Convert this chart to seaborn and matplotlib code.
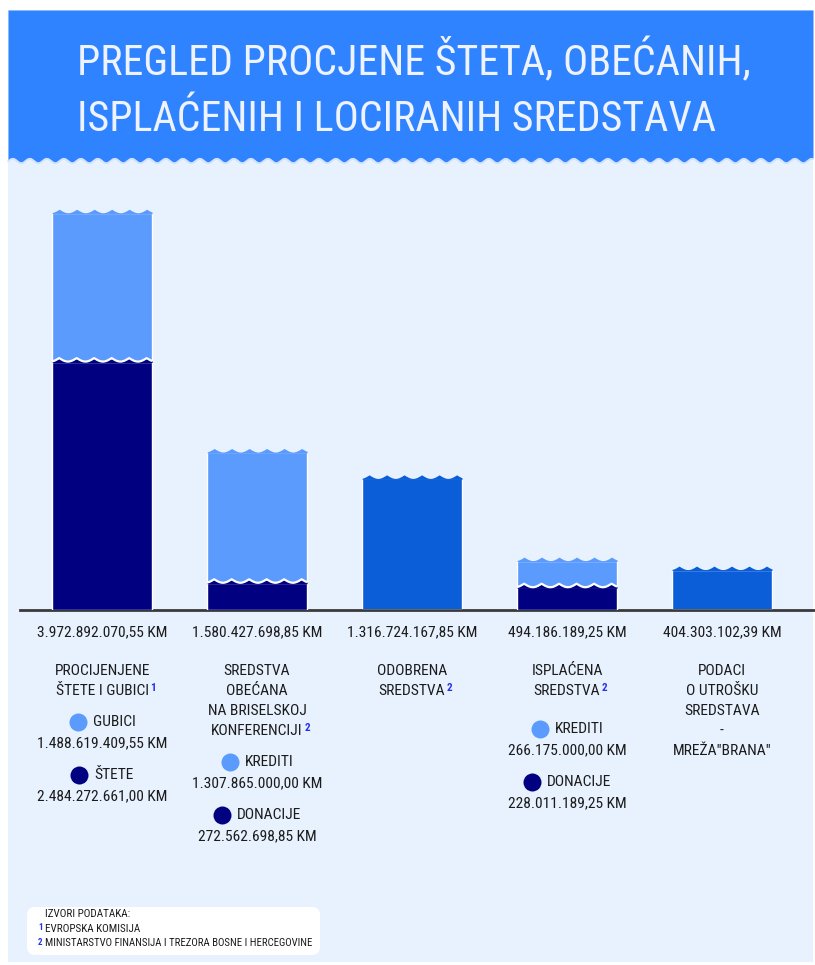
import numpy as np
import seaborn as sns
import matplotlib.pyplot as plt
from matplotlib.patches import Rectangle, FancyBboxPatch

sns.set_theme(style='white')
plt.rcParams['font.family'] = ['Ubuntu Condensed', 'Roboto Condensed', 'Open Sans Condensed',
                               'Liberation Sans Narrow', 'DejaVu Sans']

W, H = 815, 965

# data
categories = ['Procijenjene štete i gubici', 'Sredstva obećana', 'Odobrena sredstva',
              'Isplaćena sredstva', 'Podaci o utrošku']
totals = [3972892070.55, 1580427698.85, 1316724167.85, 494186189.25, 404303102.39]
light_part = [1488619409.55, 1307865000.00, 0, 266175000.00, 0]
dark_part = [2484272661.00, 272562698.85, 0, 228011189.25, 0]
title_lines = [['PROCIJENJENE', 'ŠTETE I GUBICI'],
               ['SREDSTVA', 'OBEĆANA', 'NA BRISELSKOJ', 'KONFERENCIJI'],
               ['ODOBRENA', 'SREDSTVA'],
               ['ISPLAĆENA', 'SREDSTVA'],
               ['PODACI', 'O UTROŠKU', 'SREDSTAVA', '-', 'MREŽA"BRANA"']]
source_refs = ['1', '2', '2', '2', None]
light_names = ['GUBICI', 'KREDITI', None, 'KREDITI', None]
dark_names = ['ŠTETE', 'DONACIJE', None, 'DONACIJE', None]
sources = ['EVROPSKA KOMISIJA', 'MINISTARSTVO FINANSIJA I TREZORA BOSNE I HERCEGOVINE']

LIGHT, DARK, MID = '#5A9BFD', '#000080', '#0B5ED8'
HEADER, PANEL, TEXT, REF = '#2F83FF', '#E8F1FE', '#1C1C1C', '#2530E8'
top_colors = [LIGHT, LIGHT, MID, LIGHT, MID]
legend_top = [722, 762, None, 729, None]


def km(v):
    s = f'{v:,.2f}'.replace(',', 'X').replace('.', ',').replace('X', '.')
    return s + ' KM'


def wave(xs, x0, base, amp, period, phase=0.4):
    return base + amp * (1 - np.abs(np.sin(np.pi * ((xs - x0) / period - phase))))


def fit(t, target, renderer):
    # shrink/grow a text so that its width matches the reference
    w = t.get_window_extent(renderer).width
    t.set_fontsize(t.get_fontsize() * target / w)


fig = plt.figure(figsize=(W / 100, H / 100), dpi=100)
fig.patch.set_facecolor('white')
renderer = fig.canvas.get_renderer()

# background axes in pixel coordinates
bg = fig.add_axes([0, 0, 1, 1])
bg.set_xlim(0, W)
bg.set_ylim(H, 0)
bg.axis('off')
bg.add_patch(Rectangle((8, 10), 805, 952, color=PANEL, lw=0))
hx = np.linspace(8, 813, 800)
hy = 160 + 2.2 * np.sin(2 * np.pi * hx / 17)
bg.fill_between(hx, 10, hy, color=HEADER, lw=0)
bg.plot(hx, hy + 1, color='#CFE1FF', lw=1.3)

title = bg.text(77, 75, 'PREGLED PROCJENE ŠTETA, OBEĆANIH,', color='#EEF3FF',
                fontsize=40, va='baseline', ha='left')
title2 = bg.text(77, 131, 'ISPLAĆENIH I LOCIRANIH SREDSTAVA', color='#EEF3FF',
                 fontsize=40, va='baseline', ha='left')
fit(title, 671, renderer)
title2.set_fontsize(title.get_fontsize())

# chart axes: baseline at y=610 px, 100 px per 1e9
x0px, x1px, ytop, ybot = 20, 815, 190, 610
ax = fig.add_axes([x0px / W, 1 - ybot / H, (x1px - x0px) / W, (ybot - ytop) / H])
ax.patch.set_alpha(0)

n0 = len(ax.patches)
sns.barplot(x=categories, y=totals, hue=categories, palette=top_colors, legend=False,
            width=0.645, saturation=1, ax=ax, zorder=2)
top_bars = ax.patches[n0:]
n1 = len(ax.patches)
sns.barplot(x=categories, y=dark_part, color=DARK, width=0.645, saturation=1, ax=ax, zorder=3)
dark_bars = ax.patches[n1:]

ax.set_xlim(-0.53, 4.6)
ax.set_ylim(0, 4.2e9)
ax.set_xticks([])
ax.set_yticks([])
ax.set_xlabel('')
ax.set_ylabel('')
sns.despine(ax=ax, left=True)
ax.spines['bottom'].set_color('#3A3A3A')
ax.spines['bottom'].set_linewidth(2)

ypp = 4.2e9 / (ybot - ytop)
xpp = 5.13 / (x1px - x0px)
for p in top_bars:
    xs = np.linspace(p.get_x(), p.get_x() + p.get_width(), 300)
    ys = wave(xs, p.get_x(), p.get_height(), 3.5 * ypp, 17.5 * xpp)
    ax.fill_between(xs, p.get_height() - ypp, ys, color=p.get_facecolor(), lw=0, zorder=2)
for p, v in zip(dark_bars, dark_part):
    if v <= 0:
        continue
    xs = np.linspace(p.get_x(), p.get_x() + p.get_width(), 300)
    ys = wave(xs, p.get_x(), p.get_height(), 3.5 * ypp, 17.5 * xpp)
    ax.fill_between(xs, p.get_height() - ypp, ys, color=DARK, lw=0, zorder=3)
    ax.plot(xs, ys, color='white', lw=1.6, zorder=4, solid_capstyle='butt')

# texts below bars, positioned from bar centres
fs = 11
probe = bg.text(0, 0, km(totals[0]), fontsize=fs)
fit(probe, 131, renderer)
fs = probe.get_fontsize()
probe.remove()
for i, p in enumerate(top_bars):
    cx = bg.transData.inverted().transform(
        ax.transData.transform((p.get_x() + p.get_width() / 2, 0)))[0]
    bg.text(cx, 632, km(totals[i]), ha='center', va='center', fontsize=fs, color=TEXT)
    y = 671
    t = None
    for line in title_lines[i]:
        t = bg.text(cx, y, line, ha='center', va='center', fontsize=fs, color=TEXT)
        y += 20
    if source_refs[i]:
        bg.annotate(source_refs[i], xy=(1, 1), xycoords=t, xytext=(1, 0.5),
                    textcoords='offset points', ha='left', va='top', fontsize=fs * 0.72,
                    color=REF, fontweight='bold')
    if legend_top[i] is None:
        continue
    ly = legend_top[i]
    for name, val, col in [(light_names[i], light_part[i], LIGHT),
                           (dark_names[i], dark_part[i], DARK)]:
        lt = bg.text(cx + 12, ly, name, ha='center', va='center', fontsize=fs, color=TEXT)
        ext = lt.get_window_extent(renderer)
        left = bg.transData.inverted().transform((ext.x0, ext.y0))[0]
        bg.scatter([left - 15], [ly], s=(18 * 0.72) ** 2, color=col, lw=0)
        bg.text(cx, ly + 21, km(val), ha='center', va='center', fontsize=fs, color=TEXT)
        ly += 53

# sources box
bg.add_patch(FancyBboxPatch((27, 907), 293, 48, boxstyle='round,pad=0,rounding_size=8',
                            color='white', lw=0))
bg.text(45, 914, 'IZVORI PODATAKA:', fontsize=8, color=TEXT, va='center')
for k, src in enumerate(sources):
    yy = 929 + k * 14.5
    st = bg.text(45, yy, src, fontsize=8, color=TEXT, va='center')
    if k == 1:
        fit(st, 268, renderer)
    bg.text(38, yy - 1, str(k + 1), fontsize=6.5, color=REF, va='center', fontweight='bold')

fig.savefig('out.png', dpi=100)
